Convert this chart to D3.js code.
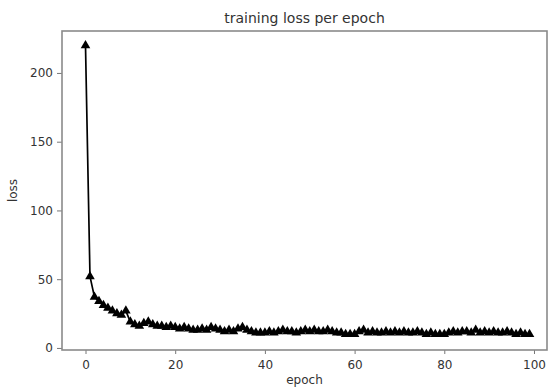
<!DOCTYPE html>
<html>
<head>
<meta charset="utf-8">
<script src="https://d3js.org/d3.v7.min.js"></script>
<style>
  body { margin: 0; background: #fff; }
  text { font-family: 'DejaVu Sans', sans-serif; fill: #333; }
</style>
</head>
<body>
<div id="chart"></div>
<script>
// loss per epoch
let epochs = d3.range(100)
let loss = [
  220, 52, 37, 34, 31, 29, 27, 25, 24, 27,
  19, 17, 16, 18, 19, 17, 16, 16, 15, 16,
  15, 14, 15, 14, 13, 13, 14, 13, 15, 14,
  13, 12, 13, 12, 14, 15, 13, 12, 11, 11,
  11, 12, 11, 12, 13, 12, 12, 11, 12, 13,
  12, 13, 12, 12, 13, 12, 11, 11, 10, 10,
  10, 12, 13, 11, 12, 11, 11, 12, 11, 12,
  11, 12, 11, 11, 12, 11, 10, 11, 10, 10,
  10, 11, 12, 11, 12, 12, 11, 13, 11, 12,
  11, 12, 11, 11, 12, 11, 10, 11, 10, 10
]
let xTicks = [0, 20, 40, 60, 80, 100]
let yTicks = [0, 50, 100, 150, 200]

let width = 548,
  height = 391,
  margin = {
    top: 31,
    right: 1,
    bottom: 41,
    left: 62
  }

let data = epochs.map(function (e, i) {
  return { epoch: e, loss: loss[i] }
})

let x = d3.scaleLinear()
  .domain([-5.24, 102.9])
  .range([margin.left, width - margin.right])

let y = d3.scaleLinear()
  .domain([-1.5, 230.5])
  .range([height - margin.bottom, margin.top])

let svg = d3.select('#chart').append('svg')
  .attr('width', width)
  .attr('height', height)

// title
svg.append('text')
  .attr('x', (margin.left + width - margin.right) / 2)
  .attr('y', 23)
  .attr('text-anchor', 'middle')
  .attr('font-size', '14px')
  .text('training loss per epoch')

// axes
svg.append('g')
  .attr('transform', 'translate(0,' + (height - margin.bottom) + ')')
  .call(d3.axisBottom(x).tickValues(xTicks).tickSize(4).tickPadding(6))

svg.append('g')
  .attr('transform', 'translate(' + margin.left + ',0)')
  .call(d3.axisLeft(y).tickValues(yTicks).tickSize(5).tickPadding(4))

svg.selectAll('.domain').remove()
svg.selectAll('.tick line').attr('stroke', '#777').attr('stroke-width', 1)
svg.selectAll('.tick text')
  .attr('font-size', '12px')
  .attr('font-family', 'DejaVu Sans, sans-serif')
  .attr('fill', '#333')

// frame
svg.append('rect')
  .attr('x', margin.left)
  .attr('y', margin.top)
  .attr('width', width - margin.left - margin.right)
  .attr('height', height - margin.top - margin.bottom)
  .attr('fill', 'none')
  .attr('stroke', '#8a8a8a')
  .attr('stroke-width', 1.6)

// axis labels
svg.append('text')
  .attr('x', (margin.left + width - margin.right) / 2)
  .attr('y', 384)
  .attr('text-anchor', 'middle')
  .attr('font-size', '12px')
  .text('epoch')

svg.append('text')
  .attr('transform', 'translate(17,' + ((margin.top + height - margin.bottom) / 2) + ') rotate(-90)')
  .attr('text-anchor', 'middle')
  .attr('font-size', '12px')
  .text('loss')

// line + triangle markers
let line = d3.line()
  .x(function (d) { return x(d.epoch) })
  .y(function (d) { return y(d.loss) })

svg.append('path')
  .datum(data)
  .attr('d', line)
  .attr('fill', 'none')
  .attr('stroke', '#000')
  .attr('stroke-width', 1.7)
  .attr('stroke-linejoin', 'round')

let tri = d3.symbol().type(d3.symbolTriangle).size(40)

svg.append('g').selectAll('path')
  .data(data)
  .enter().append('path')
  .attr('d', tri)
  .attr('transform', function (d) {
    return 'translate(' + x(d.epoch) + ',' + y(d.loss) + ')'
  })
  .attr('fill', '#000')
</script>
</body>
</html>
